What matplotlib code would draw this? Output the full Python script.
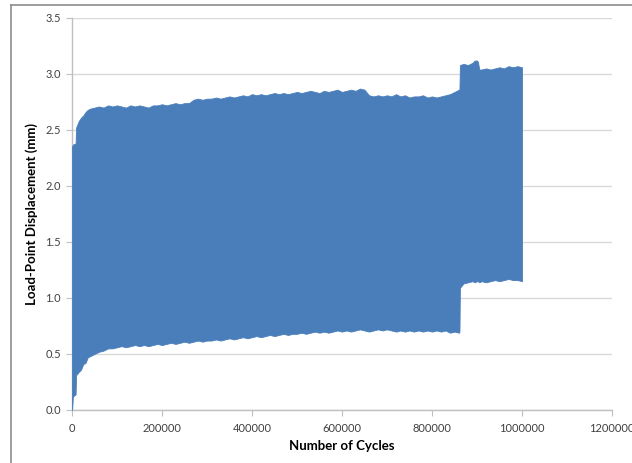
import matplotlib
matplotlib.use("Agg")
import matplotlib.pyplot as plt
from matplotlib.lines import Line2D

plt.rcParams['font.family'] = ['Lato', 'DejaVu Sans']

# envelope of the cyclic displacement signal (min / max per block of cycles)
cycles = [0, 2000, 8000, 9000, 15000, 20000, 25000, 30000, 35000, 40000,
          50000, 60000, 70000, 80000, 90000,
          100000, 110000, 120000, 130000, 140000, 150000, 160000, 170000, 180000, 190000,
          200000, 210000, 220000, 230000, 240000, 250000, 260000, 270000, 280000, 290000,
          300000, 310000, 320000, 330000, 340000, 350000, 360000, 370000, 380000, 390000,
          400000, 410000, 420000, 430000, 440000, 450000, 460000, 470000, 480000, 490000,
          500000, 510000, 520000, 530000, 540000, 550000, 560000, 570000, 580000, 590000,
          600000, 610000, 620000, 630000, 640000, 650000, 660000, 670000, 680000, 690000,
          700000, 710000, 720000, 730000, 740000, 750000, 760000, 770000, 780000, 790000,
          800000, 810000, 820000, 830000, 840000, 850000, 860000, 861000, 862000,
          870000, 880000, 890000, 895000, 900000, 902000, 905000,
          910000, 920000, 930000, 940000, 950000, 960000, 970000, 980000, 990000, 1000000]

disp_max = [2.35, 2.37, 2.38, 2.52, 2.58, 2.61, 2.63, 2.66, 2.68, 2.69,
            2.70, 2.71, 2.70, 2.72, 2.71,
            2.72, 2.71, 2.70, 2.72, 2.71, 2.72, 2.71, 2.70, 2.72, 2.72,
            2.73, 2.72, 2.73, 2.74, 2.73, 2.74, 2.74, 2.77, 2.78, 2.77,
            2.78, 2.78, 2.79, 2.78, 2.79, 2.80, 2.79, 2.80, 2.81, 2.80,
            2.82, 2.81, 2.82, 2.81, 2.82, 2.83, 2.82, 2.83, 2.82, 2.83,
            2.84, 2.83, 2.84, 2.85, 2.84, 2.83, 2.85, 2.84, 2.85, 2.86,
            2.84, 2.85, 2.86, 2.85, 2.87, 2.86, 2.81, 2.80, 2.81, 2.80,
            2.81, 2.80, 2.82, 2.80, 2.81, 2.79, 2.80, 2.80, 2.81, 2.79,
            2.80, 2.79, 2.80, 2.81, 2.82, 2.84, 2.86, 2.86, 3.08,
            3.09, 3.08, 3.10, 3.12, 3.12, 3.11, 3.04,
            3.04, 3.05, 3.04, 3.05, 3.06, 3.05, 3.07, 3.06, 3.07, 3.06]

disp_min = [0.00, 0.12, 0.14, 0.31, 0.34, 0.36, 0.41, 0.42, 0.47, 0.48,
            0.50, 0.52, 0.53, 0.55, 0.55,
            0.56, 0.57, 0.56, 0.57, 0.58, 0.57, 0.58, 0.57, 0.58, 0.59,
            0.58, 0.59, 0.60, 0.59, 0.60, 0.61, 0.60, 0.61, 0.62, 0.61,
            0.62, 0.62, 0.63, 0.62, 0.63, 0.64, 0.63, 0.64, 0.65, 0.64,
            0.65, 0.66, 0.65, 0.66, 0.67, 0.66, 0.67, 0.68, 0.67, 0.68,
            0.68, 0.69, 0.68, 0.69, 0.70, 0.69, 0.70, 0.69, 0.70, 0.71,
            0.70, 0.71, 0.70, 0.71, 0.72, 0.71, 0.70, 0.71, 0.72, 0.71,
            0.72, 0.71, 0.70, 0.71, 0.70, 0.71, 0.70, 0.71, 0.70, 0.71,
            0.70, 0.71, 0.70, 0.71, 0.69, 0.70, 0.69, 0.70, 1.09,
            1.13, 1.14, 1.15, 1.14, 1.15, 1.15, 1.14,
            1.15, 1.14, 1.15, 1.16, 1.15, 1.16, 1.17, 1.16, 1.16, 1.15]

x_ticks = [0, 200000, 400000, 600000, 800000, 1000000, 1200000]
y_ticks = [0.0, 0.5, 1.0, 1.5, 2.0, 2.5, 3.0, 3.5]

fig = plt.figure(figsize=(6.32, 4.63), dpi=100)
ax = fig.add_axes([72 / 632, 1 - 410 / 463, 540 / 632, 392 / 463])

ax.fill_between(cycles, disp_min, disp_max, color='#4a7ebb', linewidth=0.6,
                edgecolor='#4a7ebb', zorder=3)

ax.set_xlim(0, 1200000)
ax.set_ylim(0, 3.5)
ax.set_xticks(x_ticks)
ax.set_xticklabels([str(t) for t in x_ticks])
ax.set_yticks(y_ticks)
ax.set_yticklabels([f'{t:.1f}' for t in y_ticks])

ax.grid(axis='y', color='#d9d9d9', linewidth=1.0, zorder=0)
ax.grid(axis='x', visible=False)
for side in ('top', 'right'):
    ax.spines[side].set_visible(False)
for side in ('left', 'bottom'):
    ax.spines[side].set_color('#bfbfbf')
    ax.spines[side].set_linewidth(1.0)

ax.tick_params(axis='both', direction='out', length=4, width=0.8,
               color='#bfbfbf', labelcolor='#404040', labelsize=8)
ax.tick_params(axis='x', pad=5)
ax.tick_params(axis='y', pad=4)

ax.set_xlabel('Number of Cycles', fontsize=9.5, fontweight='bold', labelpad=5)
ax.set_ylabel('Load-Point Displacement (mm)', fontsize=9.5, fontweight='bold', labelpad=5)

# chart area border (only top and left edges fall inside the canvas)
fig.add_artist(Line2D([11 / 632, 11 / 632], [0, 1 - 5 / 463],
                      transform=fig.transFigure, color='#8c8c8c', linewidth=1.2))
fig.add_artist(Line2D([11 / 632, 1], [1 - 5 / 463, 1 - 5 / 463],
                      transform=fig.transFigure, color='#8c8c8c', linewidth=1.2))

fig.savefig('out.png', dpi=100)
